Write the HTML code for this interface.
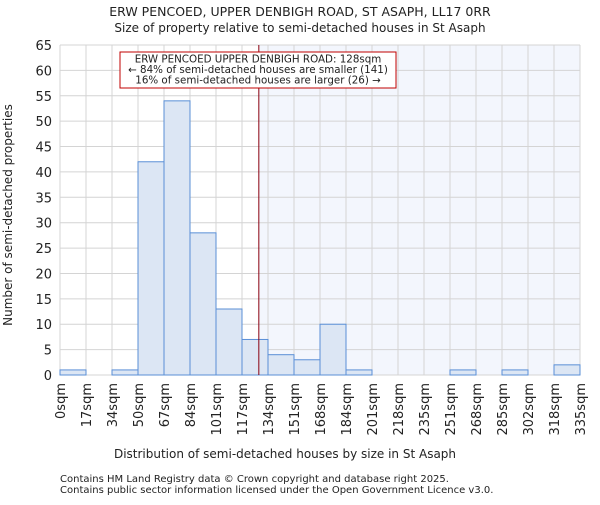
<!DOCTYPE html>
<html><head><meta charset="utf-8"><style>
body{margin:0;background:#fff}
svg text{font-family:"DejaVu Sans","Liberation Sans",sans-serif;fill:#222}
</style></head><body>
<svg id="c" width="600" height="500" xmlns="http://www.w3.org/2000/svg">
<text x="300" y="16" text-anchor="middle" font-size="12.5">ERW PENCOED, UPPER DENBIGH ROAD, ST ASAPH, LL17 0RR</text>
<text x="300" y="32" text-anchor="middle" font-size="12">Size of property relative to semi-detached houses in St Asaph</text>
<g id="plot"></g>
<text x="285" y="458" text-anchor="middle" font-size="12">Distribution of semi-detached houses by size in St Asaph</text>
<text transform="translate(12,215) rotate(-90)" text-anchor="middle" font-size="12">Number of semi-detached properties</text>
<text x="60" y="482" font-size="10">Contains HM Land Registry data © Crown copyright and database right 2025.</text>
<text x="60" y="493" font-size="10">Contains public sector information licensed under the Open Government Licence v3.0.</text>
</svg>
<script>
const categories=["0sqm","17sqm","34sqm","50sqm","67sqm","84sqm","101sqm","117sqm","134sqm","151sqm","168sqm","184sqm","201sqm","218sqm","235sqm","251sqm","268sqm","285sqm","302sqm","318sqm","335sqm"];
const counts=[1,0,1,42,54,28,13,7,4,3,10,1,0,0,0,1,0,1,0,2];
const yTicks=[0,5,10,15,20,25,30,35,40,45,50,55,60,65];
const markerValue=128;
const L=60,R=580,T=45,B=375,yMax=65;
const ns="http://www.w3.org/2000/svg";
const g=document.getElementById('plot');
const bw=(R-L)/counts.length;
const x=i=>L+i*bw;
const y=v=>B-(v/yMax)*(B-T);
function el(t,a){const e=document.createElementNS(ns,t);for(const k in a)e.setAttribute(k,a[k]);g.appendChild(e);return e;}
function xVal(v){const nums=categories.map(c=>parseFloat(c));for(let i=0;i<nums.length-1;i++){if(v>=nums[i]&&v<=nums[i+1])return x(i)+(v-nums[i])/(nums[i+1]-nums[i])*bw;}return R;}
const mx=xVal(markerValue);
let e=el('rect',{x:mx,y:T,width:R-mx,height:B-T,fill:'#f3f6fd'});


for(let i=0;i<=counts.length;i++){e=el('line',{x1:x(i),x2:x(i),y1:T,y2:B,stroke:'#d4d4d4','stroke-width':1});

}
yTicks.forEach(v=>{e=el('line',{x1:L,x2:R,y1:y(v),y2:y(v),stroke:'#d4d4d4','stroke-width':1});


const t=el('text',{x:L-8,y:y(v)+5,'text-anchor':'end','font-size':13});t.textContent=v;

});
counts.forEach((v,i)=>{if(v<=0)return;e=el('rect',{x:x(i),y:y(v),width:bw,height:B-y(v),fill:'#dce6f4',stroke:'#5a8fd6','stroke-width':1});

});
categories.forEach((c,i)=>{const t=el('text',{'font-size':13,'text-anchor':'end',transform:`translate(${x(i)+5},${B+8}) rotate(-90)`});t.textContent=c;

});
e=el('line',{x1:mx,x2:mx,y1:T,y2:B,stroke:'#8a0010','stroke-width':1});


e=el('rect',{x:120,y:52,width:276,height:36,fill:'#fff',stroke:'#c00000','stroke-width':1});


["ERW PENCOED UPPER DENBIGH ROAD: 128sqm","← 84% of semi-detached houses are smaller (141)","16% of semi-detached houses are larger (26) →"].forEach((s,i)=>{const t=el('text',{x:258,y:62.5+i*10.5,'text-anchor':'middle','font-size':10.3});t.textContent=s;

});
</script>
</body></html>
